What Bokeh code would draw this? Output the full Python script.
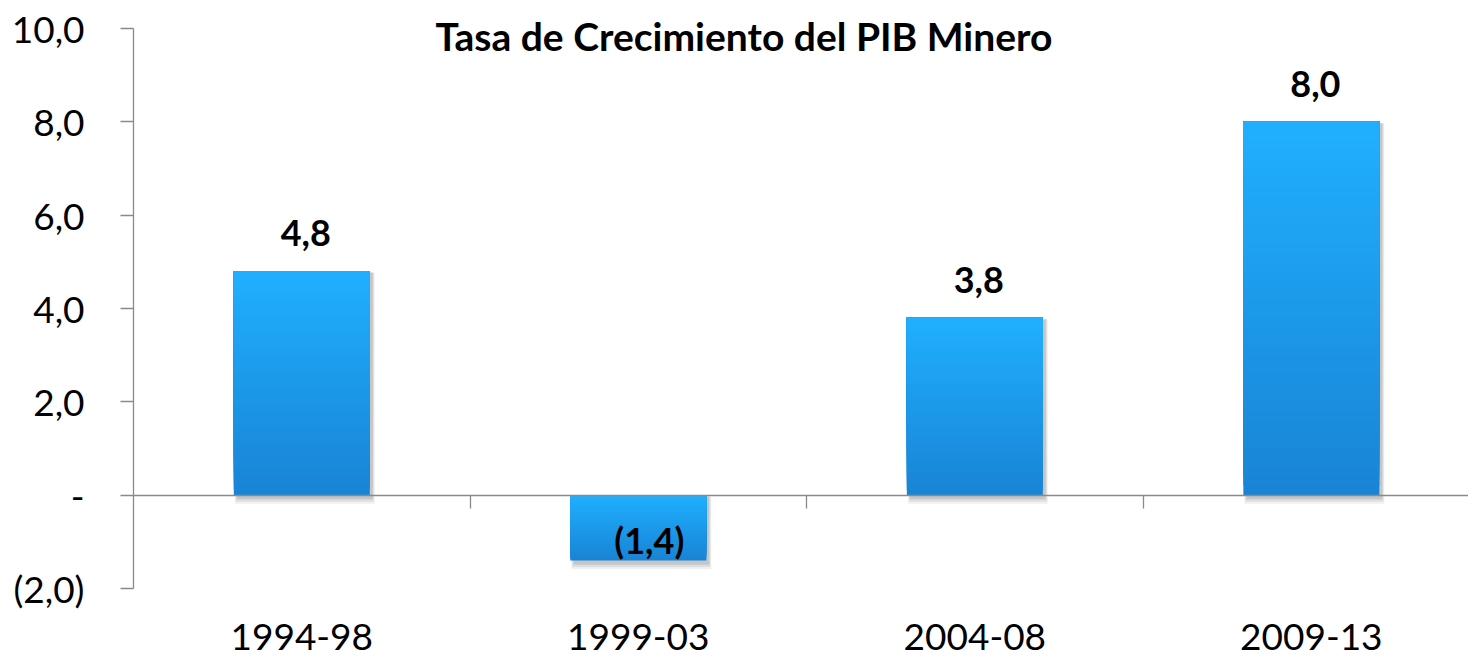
import numpy as np
from bokeh.plotting import figure
from bokeh.models import Range1d, FixedTicker, LinearAxis, Label
from bokeh.core.properties import value
from bokeh.embed import file_html
from bokeh.resources import INLINE

# ---- data ----
categories = ["1994-98", "1999-03", "2004-08", "2009-13"]
growth = [4.8, -1.4, 3.8, 8.0]
value_labels = ["4,8", "(1,4)", "3,8", "8,0"]
y_ticks = [-2, 0, 2, 4, 6, 8, 10]
y_tick_labels = ["(2,0)", "-", "2,0", "4,0", "6,0", "8,0", "10,0"]
title_text = "Tasa de Crecimiento del PIB Minero"

FONT = "Lato"
AXIS_GRAY = "#8a8a8a"
LIGHT = np.array([0x20, 0xB0, 0xFF])
DARK = np.array([0x19, 0x84, 0xD5])

n = len(categories)
centers = [i + 0.5 for i in range(n)]

p = figure(width=1468, height=659, output_backend="svg", toolbar_location=None,
           x_range=Range1d(0, 3.967), y_range=Range1d(-2, 10.6),
           x_axis_type=None, y_axis_type=None,
           min_border_left=133, min_border_right=0,
           min_border_top=0, min_border_bottom=71)
p.outline_line_color = None
p.background_fill_color = "white"
p.border_fill_color = "white"

# y axis
yaxis = LinearAxis(ticker=FixedTicker(ticks=y_ticks, minor_ticks=[]),
                   major_label_overrides={t: l for t, l in zip(y_ticks, y_tick_labels)},
                   bounds=(min(y_ticks), max(y_ticks)))
yaxis.axis_line_color = AXIS_GRAY
yaxis.axis_line_width = 1.3
yaxis.major_tick_line_color = AXIS_GRAY
yaxis.major_tick_line_width = 1.3
yaxis.major_tick_out = 13
yaxis.major_tick_in = 0
yaxis.major_label_standoff = 36
yaxis.major_label_text_font = FONT
yaxis.major_label_text_font_size = "37px"
yaxis.major_label_text_color = "black"
p.add_layout(yaxis, "left")

# category labels at bottom
xaxis = LinearAxis(ticker=FixedTicker(ticks=centers, minor_ticks=[]),
                   major_label_overrides={c: l for c, l in zip(centers, categories)})
xaxis.axis_line_color = None
xaxis.major_tick_line_color = None
xaxis.major_tick_out = 0
xaxis.major_tick_in = 0
xaxis.major_label_standoff = 35
xaxis.major_label_text_font = FONT
xaxis.major_label_text_font_size = "37px"
xaxis.major_label_text_color = "black"
p.add_layout(xaxis, "below")

# zero line with category boundary ticks
bounds = list(range(1, n + 1))
zaxis = LinearAxis(ticker=FixedTicker(ticks=bounds, minor_ticks=[]), fixed_location=0,
                   major_label_overrides={b: "" for b in bounds})
zaxis.axis_line_color = AXIS_GRAY
zaxis.axis_line_width = 1.3
zaxis.major_tick_line_color = AXIS_GRAY
zaxis.major_tick_line_width = 1.3
zaxis.major_tick_in = 13
zaxis.major_tick_out = 0
zaxis.major_label_standoff = 0
zaxis.major_label_text_font_size = "0px"
p.add_layout(zaxis, "above")

# soft shadow behind bars
lows = [min(0, v) for v in growth]
highs = [max(0, v) for v in growth]
for k, a in enumerate([0.06, 0.08, 0.10]):
    grow = (2 - k) * 0.006
    p.vbar(x=[c + 0.009 for c in centers], bottom=[lo - 0.09 - grow * 8 for lo in lows],
           top=[hi - 0.03 for hi in highs], width=0.404 + grow,
           fill_color="#000000", fill_alpha=a, line_color=None)

# gradient bars built from the values
N = 40
bx, bb, bt, bc = [], [], [], []
for c, lo, hi in zip(centers, lows, highs):
    for k in range(N):
        f = k / N
        col = DARK + (LIGHT - DARK) * f
        bx.append(c)
        bb.append(lo + (hi - lo) * f)
        bt.append(hi)
        bc.append("#%02x%02x%02x" % tuple(int(round(x)) for x in col))
p.vbar(x=bx, bottom=bb, top=bt, width=0.404, fill_color=bc, line_color=None)

# data labels
pos_x = [c for c, v in zip(centers, growth) if v >= 0]
pos_y = [v for v in growth if v >= 0]
pos_t = [t for t, v in zip(value_labels, growth) if v >= 0]
neg_x = [c for c, v in zip(centers, growth) if v < 0]
neg_y = [v for v in growth if v < 0]
neg_t = [t for t, v in zip(value_labels, growth) if v < 0]
p.text(x=pos_x, y=pos_y, text=pos_t, text_font=value(FONT), text_font_style="bold",
       text_font_size="36px", text_align="center", text_baseline="alphabetic",
       x_offset=4, y_offset=-38, text_color="black")
p.text(x=neg_x, y=neg_y, text=neg_t, text_font=value(FONT), text_font_style="bold",
       text_font_size="36px", text_align="center", text_baseline="alphabetic",
       x_offset=11, y_offset=-21, text_color="black")

# title
p.add_layout(Label(x=1.814, y=9.85, text=title_text, text_align="center",
                   text_baseline="alphabetic", text_font=FONT, text_font_style="bold",
                   text_font_size="39px", text_color="black"))

open("out.html", "w").write(file_html(p, INLINE))
